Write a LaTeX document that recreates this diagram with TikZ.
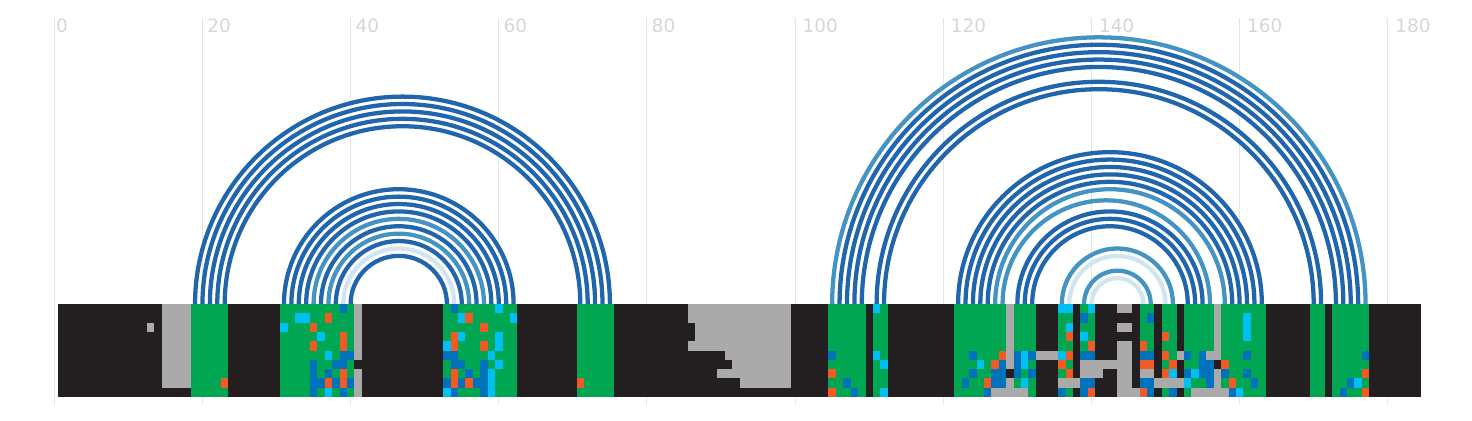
\documentclass[tikz,border=0pt]{standalone}
\usepackage{fontspec}
\usepackage{tikz}
\usetikzlibrary{calc}
\newfontfamily\tickfont{DejaVu Sans}
\definecolor{bandblack}{HTML}{231F20}
\definecolor{bandgrey}{HTML}{AAAAAA}
\definecolor{bandgreen}{HTML}{00A651}
\definecolor{bandcyan}{HTML}{00BFF3}
\definecolor{bandblue}{HTML}{0072BC}
\definecolor{bandorange}{HTML}{F15A22}
\definecolor{arcdark}{HTML}{2166AC}
\definecolor{arcmid}{HTML}{4393C3}
\definecolor{arclight}{HTML}{D1E5F0}
\definecolor{gridgrey}{HTML}{E6E6E6}
\definecolor{ticktext}{HTML}{D6D6D6}
\tikzset{ticklabel/.style={anchor=north west,inner sep=0pt,text=ticktext,
    font=\tickfont\fontsize{13.8}{16}\selectfont}}
\tikzset{gridline/.style={draw=gridgrey,line width=0.75pt}}
\tikzset{pairline/.style={line width=3.2pt}}
\newcommand{\bandtop}{15.659}
\newcommand{\rowht}{1.2554}
\newcommand{\blockfill}[5]{
    \fill[#5] ({#1-0.5},{\bandtop-#4*\rowht}) rectangle ({#2+0.5},{\bandtop-(#3-1)*\rowht});
}

\begin{document}
\begin{tikzpicture}[x=5.556pt,y=5.556pt]
        \useasboundingbox (-7.33,0) rectangle (191.37,56.70);

        % axis
        \foreach \u/\off in {0/0.22,20/0.63,40/0.63,60/0.63,80/0.63,
            100/0.99,120/0.99,140/0.99,160/0.99,180/0.99} {
            \draw[gridline] (\u,54.23) -- (\u,2.03);
            \node[ticklabel] (t\u) at (\u+\off,54.2) {\u};
        }

        % base pairs
        \foreach \i/\j/\pc in {19/75/arcdark,20/74/arcdark,21/73/arcdark,22/72/arcdark,23/71/arcdark,
            31/62/arcdark,32/61/arcdark,33/60/arcdark,34/59/arcdark,35/58/arcmid,
            36/57/arcdark,37/56/arcmid,38/55/arcdark,39/54/arclight,40/53/arcdark,
            105/177/arcmid,106/176/arcdark,107/175/arcdark,108/174/arcdark,109/173/arcdark,
            111/171/arcdark,112/170/arcdark,
            122/163/arcdark,123/162/arcdark,124/161/arcdark,125/160/arcdark,126/159/arcdark,
            127/158/arcmid,128/156/arcmid,130/155/arcdark,131/154/arcdark,132/153/arcdark,
            136/151/arcmid,137/150/arclight,139/148/arcmid,140/147/arclight}
            \draw[pairline,\pc] (\i,\bandtop) arc[start angle=180,end angle=0,radius={(\j-\i)/2}];

        % sequence band
        \blockfill{1}{184}{1}{10}{bandblack}
        \foreach \a/\b in {19/23,31/40,53/62,71/75,105/109,111/112,122/128,130/132,
            136/137,139/140,147/148,150/151,153/156,158/163,170/171,173/177}
            \blockfill{\a}{\b}{1}{10}{bandgreen};
        \foreach \a/\b/\p/\q in {15/18/1/9,13/13/3/3,41/41/1/6,41/41/8/10,
            86/99/1/2,87/99/3/4,86/99/5/5,91/99/6/6,92/99/7/7,90/99/8/8,93/99/9/9,
            129/129/1/7,129/129/9/10,127/131/10/10,133/135/6/6,136/138/9/9,
            139/143/7/7,139/141/8/8,144/145/1/1,144/145/3/3,144/145/5/10,146/146/10/10,
            147/148/8/8,149/152/9/9,152/152/6/6,156/156/6/6,157/157/1/6,157/157/8/10,
            154/158/10/10}
            \blockfill{\a}{\b}{\p}{\q}{bandgrey};
        \foreach \c/\r in {31/3,33/2,34/2,36/4,37/6,37/10,53/5,53/10,55/2,55/4,59/6,59/8,
            59/9,59/10,60/1,60/4,60/5,60/7,62/2,111/1,111/6,112/7,112/10,125/7,131/6,131/7,
            131/9,136/1,136/6,137/1,137/3,139/4,140/1,151/8,153/9,154/8,160/10,161/2,161/3,
            161/4,176/9}
            \blockfill{\c}{\c}{\r}{\r}{bandcyan};
        \foreach \c/\r in {35/7,35/8,35/9,35/10,36/9,37/8,38/7,38/9,39/1,39/6,39/7,39/10,
            40/6,40/9,53/6,53/9,54/1,54/6,54/7,54/10,55/7,55/9,56/8,57/9,58/7,58/8,58/9,58/10,
            105/6,107/9,108/10,123/9,124/6,124/8,126/10,127/8,127/9,128/7,128/8,128/9,
            130/6,130/7,130/8,132/6,132/8,136/10,139/2,139/6,139/9,139/10,140/6,140/9,
            147/6,147/9,148/2,148/6,148/9,148/10,151/10,153/6,153/8,155/6,155/7,155/8,
            156/7,156/8,156/9,158/8,159/10,161/6,161/8,162/9,174/10,175/9,177/6}
            \blockfill{\c}{\c}{\r}{\r}{bandblue};
        \foreach \c/\r in {23/9,35/3,35/5,37/2,37/9,39/4,39/5,39/8,39/9,54/4,54/5,54/8,54/9,
            56/2,56/9,58/3,58/5,71/9,105/8,105/10,126/9,127/7,128/6,136/7,137/4,137/6,137/8,
            140/5,140/10,147/5,147/7,147/10,148/7,150/4,150/6,150/8,151/7,158/7,159/9,
            177/8,177/10}
            \blockfill{\c}{\c}{\r}{\r}{bandorange};
\end{tikzpicture}
\end{document}
